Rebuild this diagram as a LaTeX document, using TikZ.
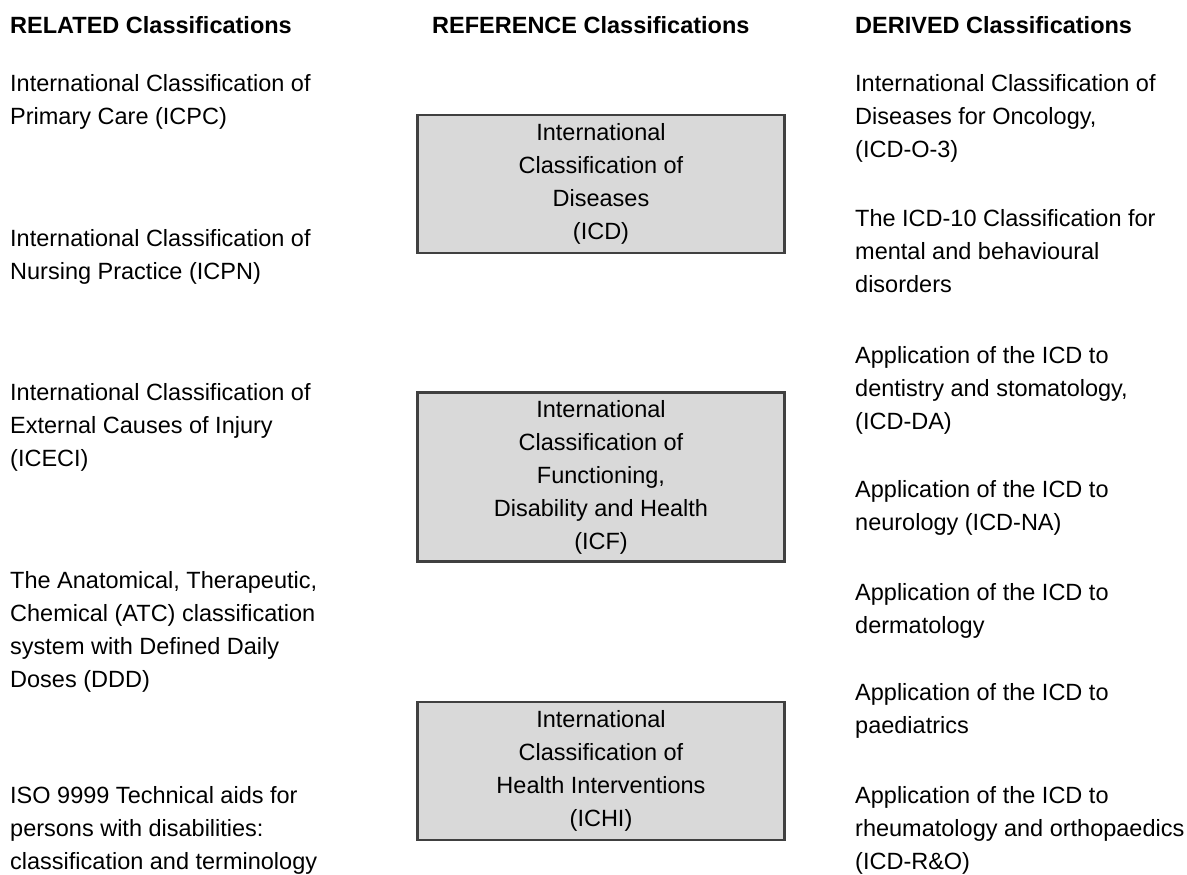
\documentclass[tikz,border=0pt]{standalone}
\usepackage{fontspec}
\setmainfont{Liberation Sans}
\usepackage{tikz}
\tikzstyle{txt} = [anchor=north west, inner sep=0pt, align=left, font=\fontsize{23.5}{33}\selectfont]
\tikzstyle{head} = [anchor=north west, inner sep=0pt, font=\fontsize{23.5}{33}\selectfont\bfseries]
\tikzstyle{refbox} = [draw=black!75, line width=2.4pt, fill=black!15, minimum width=367pt, inner sep=0pt, align=center, font=\fontsize{23.5}{33}\selectfont]

\begin{document}
\begin{tikzpicture}[x=1pt, y=-1pt]
	\useasboundingbox (0, 0) rectangle (1187, 875);

	\node[head](related) at (10, 16){RELATED Classifications};
	\node[head](reference) at (432, 16){REFERENCE Classifications};
	\node[head](derived) at (855, 16){DERIVED Classifications};

	\node[txt](icpc) at (10, 74){International Classification of\\Primary Care (ICPC)};
	\node[txt](icpn) at (10, 229){International Classification of\\Nursing Practice (ICPN)};
	\node[txt](iceci) at (10, 383){International Classification of\\External Causes of Injury\\(ICECI)};
	\node[txt](atc) at (10, 571){The Anatomical, Therapeutic,\\Chemical (ATC) classification\\system with Defined Daily\\Doses (DDD)};
	\node[txt](iso) at (10, 786){ISO 9999 Technical aids for\\persons with disabilities:\\classification and terminology};

	\node[refbox, minimum height=138pt](icd) at (601, 184){International\\Classification of\\Diseases\\(ICD)};
	\node[refbox, minimum height=169pt](icf) at (601, 477){International\\Classification of\\Functioning,\\Disability and Health\\(ICF)};
	\node[refbox, minimum height=138pt](ichi) at (601, 771){International\\Classification of\\Health Interventions\\(ICHI)};

	\node[txt](icdo) at (855, 74){International Classification of\\Diseases for Oncology,\\(ICD-O-3)};
	\node[txt](mental) at (855, 209){The ICD-10 Classification for\\mental and behavioural\\disorders};
	\node[txt](dental) at (855, 346){Application of the ICD to\\dentistry and stomatology,\\(ICD-DA)};
	\node[txt](neuro) at (855, 480){Application of the ICD to\\neurology (ICD-NA)};
	\node[txt](derma) at (855, 583){Application of the ICD to\\dermatology};
	\node[txt](paed) at (855, 683){Application of the ICD to\\paediatrics};
	\node[txt](rheuma) at (855, 786){Application of the ICD to\\rheumatology and orthopaedics\\(ICD-R\&O)};
\end{tikzpicture}
\end{document}
